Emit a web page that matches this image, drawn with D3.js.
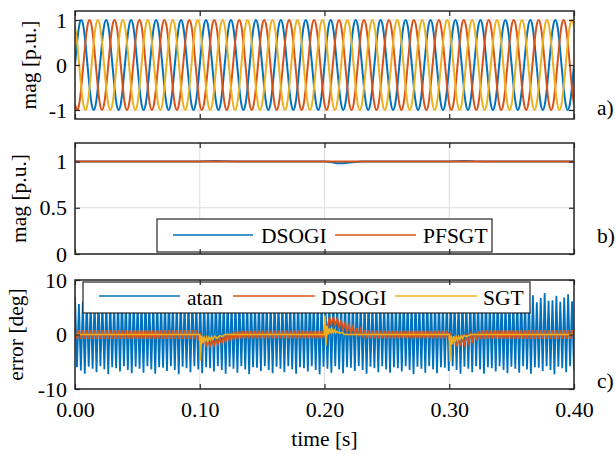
<!DOCTYPE html>
<html><head><meta charset="utf-8">
<script src="https://cdn.jsdelivr.net/npm/d3@7"></script>
<style>
body{margin:0;background:#fff}
svg{display:block}
text{font-family:"Liberation Serif","Times New Roman",serif;fill:#000}
</style>
</head><body><svg id="c" width="616" height="454"></svg>
<script>
// ---------------- DATA ----------------
const timeDomain = [0, 0.4];
const xTicks = [0, 0.1, 0.2, 0.3, 0.4];
const xTickLabels = ["0.00", "0.10", "0.20", "0.30", "0.40"];
const xLabel = "time [s]";

const yTicksA = [-1, 0, 1], yTickLabelsA = ["-1", "0", "1"];
const yTicksB = [0, 0.5, 1], yTickLabelsB = ["0", "0.5", "1"];
const yTicksC = [-10, 0, 10], yTickLabelsC = ["-10", "0", "10"];
const yLabels = ["mag [p.u.]", "mag [p.u.]", "error [deg]"];
const panelTags = ["a)", "b)", "c)"];

// panel a) three-phase voltages, samples every 1/240 of the window
const phaseA = [0,0.5,0.87,1,0.87,0.5,0,-0.5,-0.87,-1,-0.87,-0.5,
0,0.5,0.87,1,0.87,0.5,0,-0.5,-0.87,-1,-0.87,-0.5,
0,0.5,0.87,1,0.87,0.5,0,-0.5,-0.87,-1,-0.87,-0.5,
0,0.5,0.87,1,0.87,0.5,0,-0.5,-0.87,-1,-0.87,-0.5,
0,0.5,0.87,1,0.87,0.5,0,-0.5,-0.87,-1,-0.87,-0.5,
0,0.5,0.87,1,0.87,0.5,0,-0.5,-0.87,-1,-0.87,-0.5,
0,0.5,0.87,1,0.87,0.5,0,-0.5,-0.87,-1,-0.87,-0.5,
0,0.5,0.87,1,0.87,0.5,0,-0.5,-0.87,-1,-0.87,-0.5,
0,0.5,0.87,1,0.87,0.5,0,-0.5,-0.87,-1,-0.87,-0.5,
0,0.5,0.87,1,0.87,0.5,0,-0.5,-0.87,-1,-0.87,-0.5,
0,0.5,0.87,1,0.87,0.5,0,-0.5,-0.87,-1,-0.87,-0.5,
0,0.5,0.87,1,0.87,0.5,0,-0.5,-0.87,-1,-0.87,-0.5,
0,0.5,0.87,1,0.87,0.5,0,-0.5,-0.87,-1,-0.87,-0.5,
0,0.5,0.87,1,0.87,0.5,0,-0.5,-0.87,-1,-0.87,-0.5,
0,0.5,0.87,1,0.87,0.5,0,-0.5,-0.87,-1,-0.87,-0.5,
0,0.5,0.87,1,0.87,0.5,0,-0.5,-0.87,-1,-0.87,-0.5,
0,0.5,0.87,1,0.87,0.5,0,-0.5,-0.87,-1,-0.87,-0.5,
0,0.5,0.87,1,0.87,0.5,0,-0.5,-0.87,-1,-0.87,-0.5,
0,0.5,0.87,1,0.87,0.5,0,-0.5,-0.87,-1,-0.87,-0.5,
0,0.5,0.87,1,0.87,0.5,0,-0.5,-0.87,-1,-0.87,-0.5,
0];
const phaseB = [-0.87,-1,-0.87,-0.5,0,0.5,0.87,1,0.87,0.5,0,-0.5,
-0.87,-1,-0.87,-0.5,0,0.5,0.87,1,0.87,0.5,0,-0.5,
-0.87,-1,-0.87,-0.5,0,0.5,0.87,1,0.87,0.5,0,-0.5,
-0.87,-1,-0.87,-0.5,0,0.5,0.87,1,0.87,0.5,0,-0.5,
-0.87,-1,-0.87,-0.5,0,0.5,0.87,1,0.87,0.5,0,-0.5,
-0.87,-1,-0.87,-0.5,0,0.5,0.87,1,0.87,0.5,0,-0.5,
-0.87,-1,-0.87,-0.5,0,0.5,0.87,1,0.87,0.5,0,-0.5,
-0.87,-1,-0.87,-0.5,0,0.5,0.87,1,0.87,0.5,0,-0.5,
-0.87,-1,-0.87,-0.5,0,0.5,0.87,1,0.87,0.5,0,-0.5,
-0.87,-1,-0.87,-0.5,0,0.5,0.87,1,0.87,0.5,0,-0.5,
-0.87,-1,-0.87,-0.5,0,0.5,0.87,1,0.87,0.5,0,-0.5,
-0.87,-1,-0.87,-0.5,0,0.5,0.87,1,0.87,0.5,0,-0.5,
-0.87,-1,-0.87,-0.5,0,0.5,0.87,1,0.87,0.5,0,-0.5,
-0.87,-1,-0.87,-0.5,0,0.5,0.87,1,0.87,0.5,0,-0.5,
-0.87,-1,-0.87,-0.5,0,0.5,0.87,1,0.87,0.5,0,-0.5,
-0.87,-1,-0.87,-0.5,0,0.5,0.87,1,0.87,0.5,0,-0.5,
-0.87,-1,-0.87,-0.5,0,0.5,0.87,1,0.87,0.5,0,-0.5,
-0.87,-1,-0.87,-0.5,0,0.5,0.87,1,0.87,0.5,0,-0.5,
-0.87,-1,-0.87,-0.5,0,0.5,0.87,1,0.87,0.5,0,-0.5,
-0.87,-1,-0.87,-0.5,0,0.5,0.87,1,0.87,0.5,0,-0.5,
-0.87];
const phaseC = [0.87,0.5,0,-0.5,-0.87,-1,-0.87,-0.5,0,0.5,0.87,1,
0.87,0.5,0,-0.5,-0.87,-1,-0.87,-0.5,0,0.5,0.87,1,
0.87,0.5,0,-0.5,-0.87,-1,-0.87,-0.5,0,0.5,0.87,1,
0.87,0.5,0,-0.5,-0.87,-1,-0.87,-0.5,0,0.5,0.87,1,
0.87,0.5,0,-0.5,-0.87,-1,-0.87,-0.5,0,0.5,0.87,1,
0.87,0.5,0,-0.5,-0.87,-1,-0.87,-0.5,0,0.5,0.87,1,
0.87,0.5,0,-0.5,-0.87,-1,-0.87,-0.5,0,0.5,0.87,1,
0.87,0.5,0,-0.5,-0.87,-1,-0.87,-0.5,0,0.5,0.87,1,
0.87,0.5,0,-0.5,-0.87,-1,-0.87,-0.5,0,0.5,0.87,1,
0.87,0.5,0,-0.5,-0.87,-1,-0.87,-0.5,0,0.5,0.87,1,
0.87,0.5,0,-0.5,-0.87,-1,-0.87,-0.5,0,0.5,0.87,1,
0.87,0.5,0,-0.5,-0.87,-1,-0.87,-0.5,0,0.5,0.87,1,
0.87,0.5,0,-0.5,-0.87,-1,-0.87,-0.5,0,0.5,0.87,1,
0.87,0.5,0,-0.5,-0.87,-1,-0.87,-0.5,0,0.5,0.87,1,
0.87,0.5,0,-0.5,-0.87,-1,-0.87,-0.5,0,0.5,0.87,1,
0.87,0.5,0,-0.5,-0.87,-1,-0.87,-0.5,0,0.5,0.87,1,
0.87,0.5,0,-0.5,-0.87,-1,-0.87,-0.5,0,0.5,0.87,1,
0.87,0.5,0,-0.5,-0.87,-1,-0.87,-0.5,0,0.5,0.87,1,
0.87,0.5,0,-0.5,-0.87,-1,-0.87,-0.5,0,0.5,0.87,1,
0.87,0.5,0,-0.5,-0.87,-1,-0.87,-0.5,0,0.5,0.87,1,
0.87];

// panel b) estimated magnitude
const magSeriesNames = ["DSOGI", "PFSGT"];
const magDsogiT = [0,0.1,0.105,0.112,0.12,0.13,0.2,0.205,0.21,0.215,0.22,0.23,0.3,0.305,0.312,0.32,0.33,0.4];
const magDsogiV = [1,1,1.002,1.006,1.003,1,1,0.995,0.982,0.98,0.99,1,1,1.004,1.006,1.002,1,1];
const magPfsgtT = [0,0.4];
const magPfsgtV = [1,1];

// panel c) angle error, 256 samples across the window (atan: alternating peaks/troughs)
const errSeriesNames = ["atan", "DSOGI", "SGT"];
const atanPeaks = [6.9,5.6,6.0,6.4,5.7,6.2,6.8,5.8,6.1,6.5,5.6,6.3,6.9,5.9,6.0,6.6,
5.7,6.2,6.8,5.8,6.1,6.4,5.6,6.3,7.0,5.9,6.0,6.5,5.7,6.2,6.7,5.8,
6.1,6.5,5.6,6.3,6.9,5.9,6.0,6.6,5.7,6.2,6.8,5.8,6.1,6.4,5.6,6.3,
7.0,5.9,6.0,6.5,5.7,6.2,6.7,5.8,6.1,6.5,5.6,6.3,6.9,5.9,6.0,6.6,
5.7,6.2,6.8,5.8,6.1,6.4,5.6,6.3,7.0,5.9,6.0,6.5,5.7,6.2,6.7,5.8,
6.1,6.5,5.6,6.3,6.9,5.9,6.0,6.6,5.7,6.2,6.8,5.8,6.1,6.4,5.6,6.3,
7.0,5.9,6.2,6.8,5.8,6.4,7.2,6.0,6.3,6.9,5.9,6.5,7.3,6.1,6.2,7.0,
6.0,6.6,7.5,6.1,6.4,7.2,5.9,6.7,7.6,6.2,6.3,7.1,6.0,6.8,7.4,6.1];
const atanTroughs = [-6.0,-6.6,-7.2,-5.9,-6.3,-6.9,-5.8,-6.4,-7.3,-6.0,-6.2,-6.8,-5.8,-6.5,-7.1,-5.9,
-6.3,-7.0,-5.8,-6.4,-7.2,-6.0,-6.1,-6.7,-5.8,-6.5,-7.3,-5.9,-6.2,-6.9,-5.8,-6.4,
-7.1,-6.0,-6.2,-6.8,-5.8,-6.5,-7.2,-5.9,-6.3,-7.0,-5.8,-6.4,-7.3,-6.0,-6.1,-6.7,
-5.8,-6.5,-7.1,-5.9,-6.3,-6.9,-5.8,-6.4,-7.2,-6.0,-6.2,-6.8,-5.8,-6.5,-7.3,-5.9,
-6.3,-7.0,-5.8,-6.4,-7.1,-6.0,-6.1,-6.7,-5.8,-6.5,-7.2,-5.9,-6.2,-6.9,-5.8,-6.4,
-7.0,-6.0,-6.2,-6.8,-5.8,-6.5,-7.3,-5.9,-6.3,-7.0,-5.8,-6.4,-7.1,-6.0,-6.1,-6.7,
-5.8,-6.5,-7.2,-5.9,-6.3,-6.9,-5.8,-6.4,-7.2,-6.0,-6.2,-6.8,-5.8,-6.5,-7.1,-5.9,
-6.3,-7.0,-5.8,-6.4,-7.2,-6.0,-6.1,-6.7,-5.8,-6.5,-7.3,-5.9,-6.2,-6.9,-5.8,-6.4];
const errDsogi = [
0.8,-0.8,0.8,-0.8,0.8,-0.8,0.8,-0.8,0.8,-0.8,0.8,-0.8,0.8,-0.8,0.8,-0.8,
0.8,-0.8,0.8,-0.8,0.8,-0.8,0.8,-0.8,0.8,-0.8,0.8,-0.8,0.8,-0.8,0.8,-0.8,
0.8,-0.8,0.8,-0.8,0.8,-0.8,0.8,-0.8,0.8,-0.8,0.8,-0.8,0.8,-0.8,0.8,-0.8,
0.8,-0.8,0.8,-0.8,0.8,-0.8,0.8,-0.8,0.8,-0.8,0.8,-0.8,0.8,-0.8,0.8,-0.8,
0.0,-1.5,-0.8,-2.0,-1.1,-2.1,-1.05,-2.0,-0.9,-1.8,-0.7,-1.55,-0.4,-1.35,0.0,-1.1,0.2,-0.9,0.5,-0.85,0.6,-0.75,
0.7,-0.7,0.7,-0.7,0.7,-0.7,0.7,-0.7,0.7,-0.7,0.7,-0.7,0.7,-0.7,0.7,-0.7,0.7,-0.7,0.7,-0.7,0.7,
-0.7,0.7,-0.7,0.7,-0.7,0.7,-0.7,0.7,-0.7,0.7,-0.7,0.7,-0.7,0.7,-0.7,0.7,-0.7,0.7,-0.7,0.7,-0.7,
1.7,1.3,3.1,1.8,3.2,1.7,2.9,1.3,2.5,0.9,2.1,0.5,1.7,0.15,1.4,-0.15,1.15,-0.35,0.95,-0.52,0.82,-0.63,0.73,
-0.7,0.7,-0.7,0.7,-0.7,0.7,-0.7,0.7,-0.7,0.7,-0.7,0.7,-0.7,0.7,-0.7,0.7,-0.7,0.7,-0.7,0.7,
-0.7,0.7,-0.7,0.7,-0.7,0.7,-0.7,0.7,-0.7,0.7,-0.7,0.7,-0.7,0.7,-0.7,0.7,-0.7,0.7,-0.7,0.7,-0.7,
0.1,-1.8,-0.7,-2.2,-0.8,-2.1,-0.55,-1.8,-0.25,-1.5,0.05,-1.2,0.3,-1.0,0.55,-0.87,0.74,
-0.8,0.8,-0.8,0.8,-0.8,0.8,-0.8,0.8,-0.8,0.8,-0.8,0.8,-0.8,0.8,-0.8,0.8,-0.8,0.8,-0.8,0.8,-0.8,0.8,-0.8,
0.8,-0.8,0.8,-0.8,0.8,-0.8,0.8,-0.8,0.8,-0.8,0.8,-0.8,0.8,-0.8,0.8,-0.8,0.8,-0.8,0.8,-0.8,0.8,-0.8,0.8,-0.8];
const sgtT = [0,0.1,0.1005,0.1015,0.1025,0.1035,0.1045,0.1055,0.1065,0.1075,0.1085,0.1095,0.1105,0.112,0.114,0.116,0.118,0.12,
0.2,0.2004,0.2012,0.202,0.203,0.204,0.205,0.206,0.207,0.208,0.209,0.21,0.212,0.214,0.216,
0.3,0.3005,0.3015,0.3025,0.3035,0.3045,0.3055,0.3065,0.3075,0.3085,0.3095,0.3105,0.312,0.314,0.316,0.318,0.4];
const sgtV = [0,0,-4.8,-0.2,-1.6,-0.4,-1.4,-0.5,-1.2,-0.5,-1.0,-0.4,-0.9,-0.3,-0.7,-0.2,-0.4,0,
0,3.5,-2.0,1.6,0.0,1.2,0.2,1.0,0.3,0.8,0.3,0.6,0.2,0.4,0,
0,-5.0,-0.2,-1.8,-0.3,-1.4,-0.4,-1.1,-0.4,-0.9,-0.3,-0.7,-0.2,-0.4,-0.1,0,0];

// ---------------- DRAWING ----------------
const colors = ["#0072BD", "#D95319", "#EDB120"];
const svg = d3.select("#c");
const X0 = 75, X1 = 574;
const x = d3.scaleLinear().domain(timeDomain).range([X0, X1]);
const panels = [
  {y: d3.scaleLinear().domain([-1.2, 1.2]).range([119, 11]), ticks: yTicksA, labels: yTickLabelsA, labX: 36, tagY: 115},
  {y: d3.scaleLinear().domain([0, 1.2]).range([254, 143]), ticks: yTicksB, labels: yTickLabelsB, labX: 26, tagY: 243},
  {y: d3.scaleLinear().domain([-10, 10]).range([389, 280]), ticks: yTicksC, labels: yTickLabelsC, labX: 23, tagY: 388}
];
const gridColor = "#dedede", frameColor = "#262626";

panels.forEach((p, k) => {
  const g = svg.append("g");
  const [yb, yt] = p.y.range();
  g.selectAll(".gx").data(xTicks).enter().append("line")
    .attr("x1", d => x(d)).attr("x2", d => x(d)).attr("y1", yt).attr("y2", yb)
    .attr("stroke", gridColor).attr("stroke-width", 1);
  g.selectAll(".gy").data(p.ticks).enter().append("line")
    .attr("x1", X0).attr("x2", X1).attr("y1", d => p.y(d)).attr("y2", d => p.y(d))
    .attr("stroke", gridColor).attr("stroke-width", 1);
  svg.append("clipPath").attr("id", "clip" + k).append("rect")
    .attr("x", X0).attr("y", yt).attr("width", X1 - X0).attr("height", yb - yt);
  p.g = g;
  p.plot = g.append("g").attr("clip-path", `url(#clip${k})`);
});

// panel a
const nA = phaseA.length - 1;
const sineLine = d3.line().x((d, i) => x(timeDomain[0] + (timeDomain[1] - timeDomain[0]) * i / nA))
  .y(d => panels[0].y(d)).curve(d3.curveNatural);
[phaseA, phaseB, phaseC].forEach((arr, i) => {
  panels[0].plot.append("path").attr("d", sineLine(arr)).attr("fill", "none")
    .attr("stroke", colors[i]).attr("stroke-width", 2);
});

// panel b
const magLine = d3.line().x(d => x(d[0])).y(d => panels[1].y(d[1]));
panels[1].plot.append("path").attr("d", magLine(d3.zip(magDsogiT, magDsogiV)))
  .attr("fill", "none").attr("stroke", colors[0]).attr("stroke-width", 2);
panels[1].plot.append("path").attr("d", magLine(d3.zip(magPfsgtT, magPfsgtV)))
  .attr("fill", "none").attr("stroke", colors[1]).attr("stroke-width", 2);

// panel c
const nC = errDsogi.length - 1;
const tC = i => timeDomain[0] + (timeDomain[1] - timeDomain[0]) * i / nC;
const atanSeries = d3.range(atanPeaks.length + atanTroughs.length)
  .map(i => [tC(i), i % 2 === 0 ? atanPeaks[i >> 1] : atanTroughs[i >> 1]]);
const errLine = d3.line().x(d => x(d[0])).y(d => panels[2].y(d[1]));
panels[2].plot.append("path").attr("d", errLine(atanSeries))
  .attr("fill", "none").attr("stroke", colors[0]).attr("stroke-width", 1.8);
panels[2].plot.append("path").attr("d", errLine(errDsogi.map((v, i) => [tC(i), v])))
  .attr("fill", "none").attr("stroke", colors[1]).attr("stroke-width", 1.8);
panels[2].plot.append("path").attr("d", errLine(d3.zip(sgtT, sgtV)))
  .attr("fill", "none").attr("stroke", colors[2]).attr("stroke-width", 1.6);

// legends
function legend(g, box, items, lineY, textY) {
  g.append("rect").attr("x", box[0]).attr("y", box[1]).attr("width", box[2] - box[0]).attr("height", box[3] - box[1])
    .attr("fill", "#fff").attr("stroke", frameColor).attr("stroke-width", 1.2);
  items.forEach(it => {
    g.append("line").attr("x1", it.x1).attr("x2", it.x2).attr("y1", lineY).attr("y2", lineY)
      .attr("stroke", it.c).attr("stroke-width", 1.6);
    g.append("text").attr("x", it.tx).attr("y", textY).attr("font-size", 21.5).text(it.name);
  });
}
legend(panels[1].g, [157, 219, 492, 252], [
  {x1: 173, x2: 253, tx: 261, c: colors[0], name: magSeriesNames[0]},
  {x1: 335, x2: 416, tx: 423, c: colors[1], name: magSeriesNames[1]}
], 235, 243);
legend(panels[2].g, [83, 282, 530, 313], [
  {x1: 99, x2: 180, tx: 187, c: colors[0], name: errSeriesNames[0]},
  {x1: 233, x2: 315, tx: 321, c: colors[1], name: errSeriesNames[1]},
  {x1: 395, x2: 477, tx: 483, c: colors[2], name: errSeriesNames[2]}
], 296, 305);

// frames, ticks, labels
panels.forEach((p, k) => {
  const g = p.g;
  const [yb, yt] = p.y.range();
  const L = d3.axisLeft(p.y).tickValues(p.ticks).tickFormat((d, i) => p.labels[i]).tickSize(-5).tickPadding(8);
  const R = d3.axisRight(p.y).tickValues(p.ticks).tickFormat("").tickSize(-5);
  const T = d3.axisTop(x).tickValues(xTicks).tickFormat("").tickSize(-5);
  const B = d3.axisBottom(x).tickValues(xTicks).tickSize(-5).tickPadding(12)
    .tickFormat((d, i) => k === 2 ? xTickLabels[i] : "");
  [[L, `translate(${X0},0)`], [R, `translate(${X1},0)`], [T, `translate(0,${yt})`], [B, `translate(0,${yb})`]]
    .forEach(([ax, tr]) => {
      const a = g.append("g").attr("transform", tr).call(ax);
      a.select(".domain").remove();
      a.selectAll(".tick line").attr("stroke", frameColor).attr("stroke-width", 1.2);
      a.selectAll("text").attr("font-size", 22).attr("fill", "#000")
        .attr("font-family", '"Liberation Serif","Times New Roman",serif');
    });
  g.append("rect").attr("x", X0).attr("y", yt).attr("width", X1 - X0).attr("height", yb - yt)
    .attr("fill", "none").attr("stroke", frameColor).attr("stroke-width", 1.5);
  g.append("text").attr("transform", `translate(${p.labX},${(yt + yb) / 2}) rotate(-90)`)
    .attr("text-anchor", "middle").attr("font-size", 21.5).text(yLabels[k]);
  g.append("text").attr("x", 597).attr("y", p.tagY).attr("font-size", 21.5).text(panelTags[k]);
});
svg.append("text").attr("x", x(0.2)).attr("y", 446).attr("text-anchor", "middle")
  .attr("font-size", 21.5).text(xLabel);
</script>
</body></html>
